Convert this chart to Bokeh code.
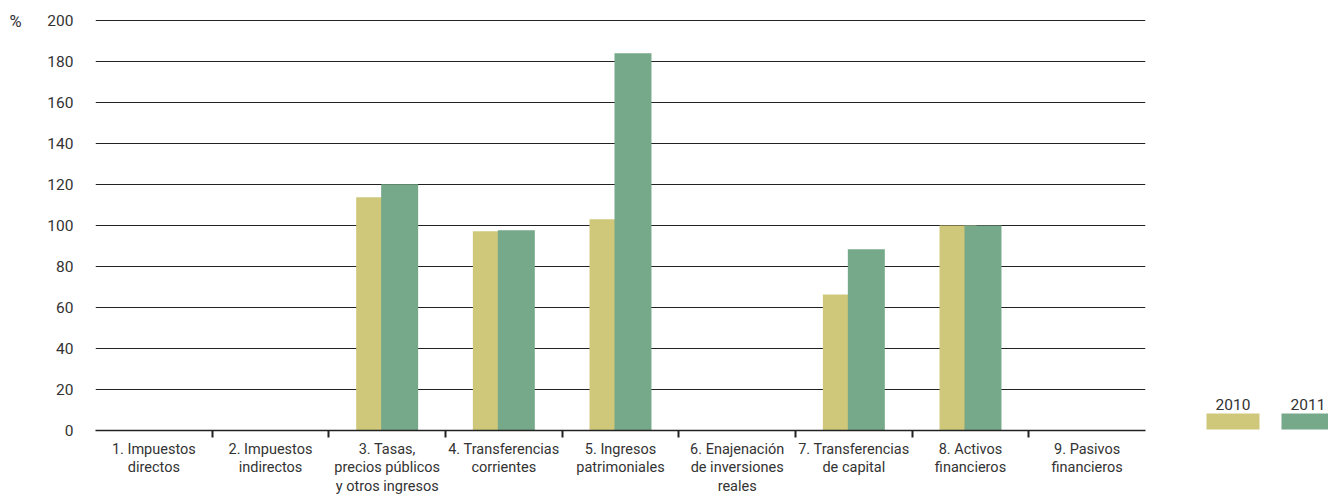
from bokeh.plotting import figure
from bokeh.models import Range1d, FixedTicker, ColumnDataSource
from bokeh.layouts import row
from bokeh.embed import file_html
from bokeh.resources import INLINE
from bokeh.core.properties import value

categories = [
    "1. Impuestos\ndirectos",
    "2. Impuestos\nindirectos",
    "3. Tasas,\nprecios públicos\ny otros ingresos",
    "4. Transferencias\ncorrientes",
    "5. Ingresos\npatrimoniales",
    "6. Enajenación\nde inversiones\nreales",
    "7. Transferencias\nde capital",
    "8. Activos\nfinancieros",
    "9. Pasivos\nfinancieros",
]
years = ["2010", "2011"]
values_2010 = [0, 0, 113.8, 97.2, 103.1, 0, 66.4, 100.0, 0]
values_2011 = [0, 0, 120.1, 97.7, 184.1, 0, 88.4, 100.0, 0]
y_ticks = [0, 20, 40, 60, 80, 100, 120, 140, 160, 180, 200]
y_unit = "%"

colors = ["#cfc87b", "#76a88a"]
TEXT = "#333333"
FONT = "Roboto"

n = len(categories)
centers = [i + 0.5 for i in range(n)]
offset = 0.107
bar_w = 0.317

FRAME_TOP, FRAME_BOTTOM = 18, 430
H = 497
LEFT_W = 30

# left strip with the unit label
lf = figure(width=LEFT_W, height=H, x_range=Range1d(0, LEFT_W), y_range=Range1d(H, 0),
            output_backend="svg", toolbar_location=None,
            min_border_left=0, min_border_right=0, min_border_top=0, min_border_bottom=0,
            frame_align=False)
lf.axis.visible = False
lf.grid.visible = False
lf.outline_line_color = None
lf.text(x=[9], y=[20.5], text=[y_unit], text_align="left", text_baseline="middle",
        text_font=value(FONT), text_font_size="16.5px", text_color=TEXT)

# main chart
p = figure(width=1170 - LEFT_W, height=H, x_range=Range1d(0, n), y_range=Range1d(0, 201),
           output_backend="svg", toolbar_location=None,
           min_border_left=95 - LEFT_W, min_border_right=25,
           min_border_top=FRAME_TOP, min_border_bottom=H - FRAME_BOTTOM)
p.outline_line_color = None
p.background_fill_color = "white"

series = [values_2010, values_2011]
for k, vals in enumerate(series):
    src = ColumnDataSource(dict(x=[c + (k * 2 - 1) * offset for c in centers], top=vals))
    p.vbar(x="x", top="top", bottom=0, width=bar_w, source=src,
           fill_color=colors[k], line_color=None)

xa = p.xaxis[0]
xa.ticker = FixedTicker(ticks=centers, minor_ticks=[float(i) for i in range(1, n)])
xa.major_label_overrides = {c: lab for c, lab in zip(centers, categories)}
xa.major_tick_line_color = None
xa.major_tick_out = 0
xa.major_tick_in = 0
xa.minor_tick_line_color = "#222222"
xa.minor_tick_line_width = 2
xa.minor_tick_out = 7
xa.minor_tick_in = 0
xa.axis_line_color = "#222222"
xa.axis_line_width = 1.5
xa.major_label_text_font = FONT
xa.major_label_text_font_size = "14.5px"
xa.major_label_text_color = TEXT
xa.major_label_text_line_height = 1.1
xa.major_label_standoff = 3

ya = p.yaxis[0]
ya.ticker = FixedTicker(ticks=y_ticks)
ya.axis_line_color = None
ya.major_tick_line_color = None
ya.major_tick_out = 0
ya.major_tick_in = 0
ya.minor_tick_line_color = None
ya.major_label_text_font = FONT
ya.major_label_text_font_size = "15.5px"
ya.major_label_text_color = TEXT
ya.major_label_standoff = 22

p.xgrid.grid_line_color = None
p.ygrid.ticker = FixedTicker(ticks=y_ticks)
p.ygrid.grid_line_color = "#222222"
p.ygrid.grid_line_width = 1

# legend panel (pixel-like coordinates matching the main frame)
lw = 1328 - 1170
leg = figure(width=lw, height=H, x_range=Range1d(0, lw),
             y_range=Range1d(FRAME_BOTTOM, FRAME_TOP),
             output_backend="svg", toolbar_location=None,
             min_border_left=0, min_border_right=0,
             min_border_top=FRAME_TOP, min_border_bottom=H - FRAME_BOTTOM)
leg.axis.visible = False
leg.grid.visible = False
leg.outline_line_color = None
sw_x = [36 + 75 * i for i in range(len(years))]
leg.quad(left=sw_x, right=[x + 53 for x in sw_x], top=[413] * len(years),
         bottom=[429] * len(years), fill_color=colors, line_color=None)
leg.text(x=[x + 26.5 for x in sw_x], y=[404] * len(years), text=years,
         text_align="center", text_baseline="alphabetic",
         text_font=value(FONT), text_font_size="15.5px", text_color=TEXT)

layout = row(lf, p, leg, spacing=0)
open("out.html", "w").write(file_html(layout, INLINE))
